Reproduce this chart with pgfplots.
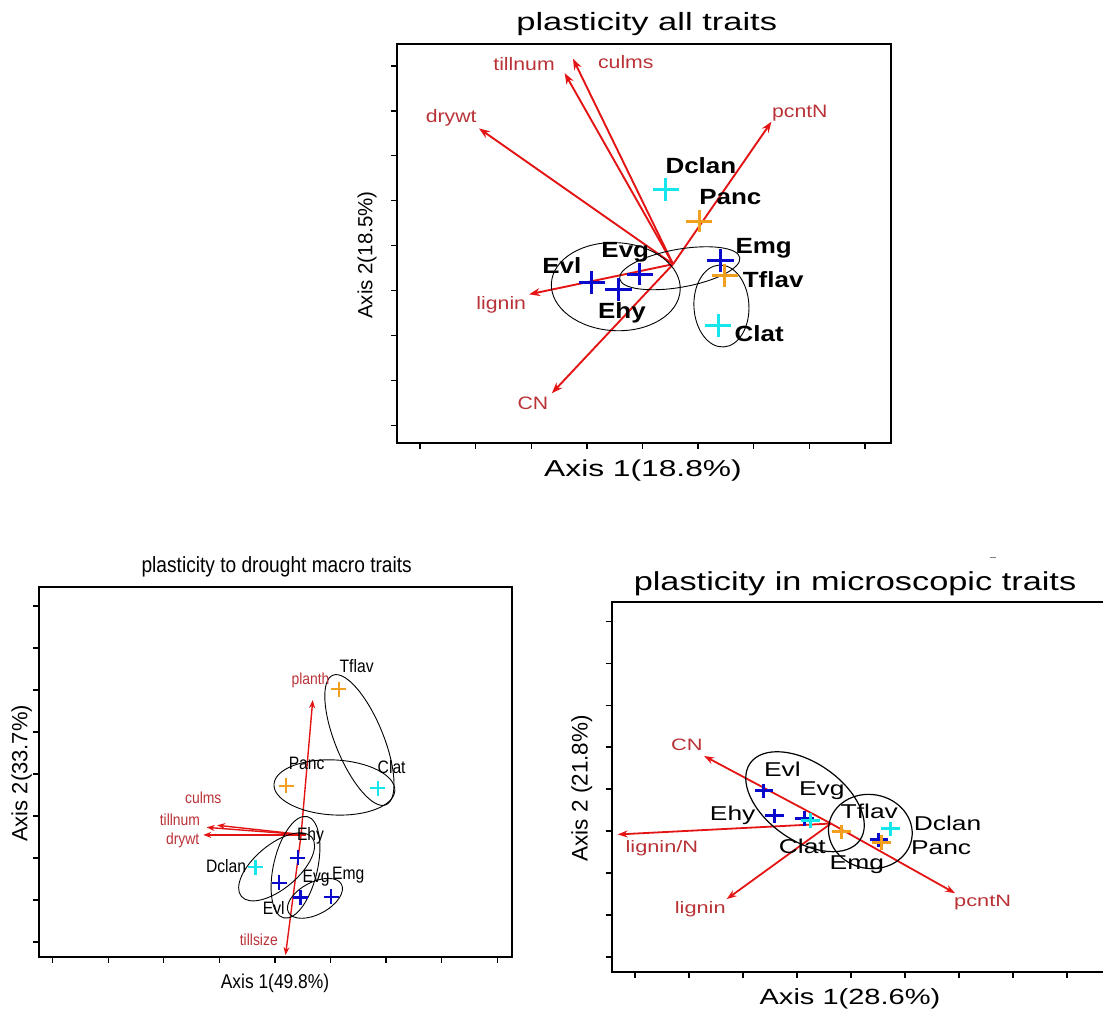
\documentclass[border=0pt]{standalone}
\usepackage{fontspec}
\setmainfont{Liberation Sans}
\newfontfamily\fA[FakeStretch=1.38]{Liberation Sans}
\newfontfamily\fB[FakeStretch=1.18]{Liberation Sans}
\newfontfamily\fC[FakeStretch=0.87]{Liberation Sans}
\newfontfamily\fD[FakeStretch=1.32]{Liberation Sans}
\usepackage{pgfplots}
\pgfplotsset{compat=1.18}
\usetikzlibrary{arrows.meta,shapes.geometric}

\definecolor{spCyan}{RGB}{20,230,235}
\definecolor{spOrange}{RGB}{240,160,30}
\definecolor{spBlue}{RGB}{10,10,205}
\definecolor{vecRed}{RGB}{228,20,20}
\definecolor{vecText}{RGB}{185,50,55}

\pgfplotsset{
  ordination/.style={
    scale only axis, clip=false, anchor=south west,
    axis line style={line width=0.9pt},
    tick style={black, line width=0.65pt},
    major tick length=3pt, tick align=outside,
    xtick pos=left, ytick pos=left,
    xtick={-4,...,4}, ytick={-4,...,4},
    xticklabels={}, yticklabels={},
  },
}
\tikzset{
  grp/.style={draw=black, line width=0.45pt, ellipse, inner sep=0pt, fill=none},
}

\begin{document}
\begin{tikzpicture}[x=0.5pt, y=0.5pt]

% ---------------- plasticity all traits ----------------
\begin{axis}[ordination, at={(198.65pt,-221.35pt)},
  width=246.85pt, height=199.2pt,
  xmin=-4.41, xmax=4.47, ymin=-4.38, ymax=4.48]
  % trait vectors
  \addplot[line width=0.95pt, vecRed, -{Stealth[length=5.5pt,width=4pt]}] coordinates {(0.55,-0.41) (-1.40,3.84)};
  \addplot[line width=0.95pt, vecRed, -{Stealth[length=5.5pt,width=4pt]}] coordinates {(0.55,-0.41) (-1.25,4.16)};
  \addplot[line width=0.95pt, vecRed, -{Stealth[length=5.5pt,width=4pt]}] coordinates {(0.55,-0.41) (-2.94,2.61)};
  \addplot[line width=0.95pt, vecRed, -{Stealth[length=5.5pt,width=4pt]}] coordinates {(0.55,-0.41) (2.32,2.76)};
  \addplot[line width=0.95pt, vecRed, -{Stealth[length=5.5pt,width=4pt]}] coordinates {(0.55,-0.41) (-2.04,-1.08)};
  \addplot[line width=0.95pt, vecRed, -{Stealth[length=5.5pt,width=4pt]}] coordinates {(0.55,-0.41) (-1.63,-3.28)};
  % groups
  \node[grp, minimum width=64.5pt, minimum height=44pt, rotate=-3] at (axis cs:-0.48,-0.91) {};
  \node[grp, minimum width=61pt, minimum height=19pt, rotate=10] at (axis cs:0.67,-0.50) {};
  \node[grp, minimum width=27.5pt, minimum height=41pt, rotate=3] at (axis cs:1.42,-1.34) {};
  % species scores
  \addplot[only marks, mark=+, mark size=6pt, mark options={line width=1.5pt, xscale=1.1, yscale=0.95}, spCyan] coordinates {(0.42,1.26) (1.36,-1.78)};
  \addplot[only marks, mark=+, mark size=6pt, mark options={line width=1.5pt, xscale=1.1, yscale=0.95}, spOrange] coordinates {(1.02,0.55) (1.48,-0.67)};
  \addplot[only marks, mark=+, mark size=6pt, mark options={line width=1.5pt, xscale=1.1, yscale=0.95}, spBlue] coordinates {(1.40,-0.33) (-0.91,-0.81) (-0.43,-0.97) (-0.05,-0.63)};
  % species names
  \begin{scope}[every node/.style={font=\fB\bfseries\fontsize{11}{12}\selectfont, inner sep=0pt}]
    \node at (axis cs:1.05,1.79) {Dclan};
    \node at (axis cs:1.58,1.08) {Panc};
    \node at (axis cs:2.18,-0.06) {Emg};
    \node at (axis cs:2.35,-0.75) {Tflav};
    \node at (axis cs:2.10,-1.96) {Clat};
    \node at (axis cs:-1.45,-0.43) {Evl};
    \node at (axis cs:-0.31,-0.15) {Evg};
    \node at (axis cs:-0.37,-1.50) {Ehy};
  \end{scope}
  % trait names
  \begin{scope}[every node/.style={font=\fB\fontsize{9}{10}\selectfont, text=vecText, inner sep=0pt}]
    \node at (axis cs:-2.13,4.05) {tillnum};
    \node at (axis cs:-0.30,4.09) {culms};
    \node at (axis cs:-3.44,2.85) {drywt};
    \node at (axis cs:2.83,2.94) {pcntN};
    \node at (axis cs:-2.54,-1.32) {lignin};
    \node at (axis cs:-1.97,-3.50) {CN};
  \end{scope}
\end{axis}
\node[anchor=base, font=\fA\fontsize{12.5}{14}\selectfont] at (646.7,-30.5) {plasticity all traits};
\node[anchor=base, font=\fA\fontsize{11.5}{13}\selectfont] at (643,-476.7) {Axis 1(18.8\%)};
\node[rotate=90, font=\fontsize{10.25}{12}\selectfont] at (367,-255) {Axis 2(18.5\%)};

% ---------------- plasticity to drought macro traits ----------------
\begin{axis}[ordination, at={(19.65pt,-478.35pt)},
  width=236.2pt, height=185pt,
  xmin=-4.24, xmax=4.26, ymin=-4.35, ymax=4.46]
  \addplot[line width=0.7pt, vecRed, -{Stealth[length=4pt,width=3pt]}] coordinates {(0.47,-1.45) (0.68,1.76)};
  \addplot[line width=0.7pt, vecRed, -{Stealth[length=4pt,width=3pt]}] coordinates {(0.47,-1.45) (0.19,-4.31)};
  \addplot[line width=0.7pt, vecRed, -{Stealth[length=4pt,width=3pt]}] coordinates {(0.55,-1.45) (-1.04,-1.22)};
  \addplot[line width=0.7pt, vecRed, -{Stealth[length=4pt,width=3pt]}] coordinates {(0.55,-1.45) (-1.23,-1.27)};
  \addplot[line width=0.7pt, vecRed, -{Stealth[length=4pt,width=3pt]}] coordinates {(0.55,-1.45) (-1.29,-1.45)};
  \node[grp, minimum width=70pt, minimum height=24pt, rotate=-67.7] at (axis cs:1.52,0.81) {};
  \node[grp, minimum width=60.5pt, minimum height=27.5pt, rotate=-3] at (axis cs:1.07,-0.32) {};
  \node[grp, minimum width=46pt, minimum height=22pt, rotate=40] at (axis cs:0.03,-2.21) {};
  \node[grp, minimum width=52pt, minimum height=22pt, rotate=77] at (axis cs:0.37,-2.22) {};
  \node[grp, minimum width=30pt, minimum height=16pt, rotate=28] at (axis cs:0.72,-2.96) {};
  \addplot[only marks, mark=+, mark size=3.75pt, mark options={line width=1.1pt}, spOrange] coordinates {(1.15,2.02) (0.20,-0.28)};
  \addplot[only marks, mark=+, mark size=3.75pt, mark options={line width=1.1pt}, spCyan] coordinates {(1.85,-0.34) (-0.35,-2.22)};
  \addplot[only marks, mark=+, mark size=3.75pt, mark options={line width=1.1pt}, spBlue] coordinates {(0.41,-1.99) (0.08,-2.59) (0.46,-2.94) (1.01,-2.92)};
  \begin{scope}[every node/.style={font=\fC\fontsize{9}{10}\selectfont, inner sep=0pt}]
    \node at (axis cs:1.47,2.57) {Tflav};
    \node at (axis cs:0.57,0.25) {Panc};
    \node at (axis cs:2.10,0.16) {Clat};
    \node at (axis cs:0.64,-1.48) {Ehy};
    \node at (axis cs:-0.88,-2.19) {Dclan};
    \node at (axis cs:0.74,-2.48) {Evg};
    \node at (axis cs:1.32,-2.40) {Emg};
    \node at (axis cs:-0.02,-3.20) {Evl};
  \end{scope}
  \begin{scope}[every node/.style={font=\fC\fontsize{8}{9}\selectfont, text=vecText, inner sep=0pt}]
    \node at (axis cs:0.64,2.22) {planth};
    \node at (axis cs:-0.29,-3.94) {tillsize};
    \node at (axis cs:-1.29,-0.56) {culms};
    \node at (axis cs:-1.71,-1.08) {tillnum};
    \node at (axis cs:-1.66,-1.57) {drywt};
  \end{scope}
\end{axis}
\node[anchor=base, font=\fC\fontsize{11}{12.5}\selectfont] at (276.7,-572.7) {plasticity to drought macro traits};
\node[anchor=base, font=\fC\fontsize{10}{11.5}\selectfont] at (275,-988.3) {Axis 1(49.8\%)};
\node[rotate=90, font=\fontsize{11}{12.5}\selectfont] at (21.7,-773.3) {Axis 2(33.7\%)};

% ---------------- plasticity in microscopic traits ----------------
\begin{axis}[ordination, at={(305.85pt,-485.85pt)},
  width=249.2pt, height=184.7pt,
  xmin=-4.43, xmax=4.80, ymin=-4.35, ymax=4.45]
  \addplot[line width=0.9pt, vecRed, -{Stealth[length=5pt,width=3.5pt]}] coordinates {(-0.37,-0.82) (-2.72,0.79)};
  \addplot[line width=0.9pt, vecRed, -{Stealth[length=5pt,width=3.5pt]}] coordinates {(-0.37,-0.82) (-4.32,-1.08)};
  \addplot[line width=0.9pt, vecRed, -{Stealth[length=5pt,width=3.5pt]}] coordinates {(-0.37,-0.82) (-2.30,-2.62)};
  \addplot[line width=0.9pt, vecRed, -{Stealth[length=5pt,width=3.5pt]}] coordinates {(-0.37,-0.82) (1.93,-2.48)};
  \node[grp, line width=0.6pt, minimum width=67pt, minimum height=39pt, rotate=-35] at (axis cs:-0.85,-0.30) {};
  \node[grp, line width=0.6pt, minimum width=42pt, minimum height=37pt, rotate=-10] at (axis cs:0.36,-1.01) {};
  \addplot[only marks, mark=+, mark size=4.25pt, mark options={line width=1.5pt, xscale=1.1, yscale=0.85}, spBlue] coordinates {(-1.61,-0.04) (-1.41,-0.64) (-0.86,-0.70) (0.52,-1.21)};
  \addplot[only marks, mark=+, mark size=4.25pt, mark options={line width=1.5pt, xscale=1.1, yscale=0.85}, spCyan] coordinates {(-0.75,-0.75) (0.73,-0.95)};
  \addplot[only marks, mark=+, mark size=4.25pt, mark options={line width=1.5pt, xscale=1.1, yscale=0.85}, spOrange] coordinates {(-0.17,-1.02) (0.57,-1.27)};
  \begin{scope}[every node/.style={font=\fD\fontsize{10}{11}\selectfont, inner sep=0pt}]
    \node at (axis cs:-1.27,0.48) {Evl};
    \node at (axis cs:-0.54,-0.04) {Evg};
    \node at (axis cs:-2.19,-0.62) {Ehy};
    \node at (axis cs:0.34,-0.52) {Tflav};
    \node at (axis cs:1.79,-0.82) {Dclan};
    \node at (axis cs:-0.90,-1.37) {Clat};
    \node at (axis cs:1.67,-1.40) {Panc};
    \node at (axis cs:0.11,-1.79) {Emg};
  \end{scope}
  \begin{scope}[every node/.style={font=\fD\fontsize{8.25}{9}\selectfont, text=vecText, inner sep=0pt}]
    \node at (axis cs:-3.04,1.05) {CN};
    \node at (axis cs:-3.50,-1.41) {lignin/N};
    \node at (axis cs:-2.79,-2.86) {lignin};
    \node at (axis cs:2.44,-2.70) {pcntN};
  \end{scope}
\end{axis}
\draw[line width=0.35pt, gray] (990,-557) -- (996,-557);
\node[anchor=base, font=\fD\fontsize{13}{14.5}\selectfont] at (855,-590) {plasticity in microscopic traits};
\node[anchor=base, font=\fD\fontsize{11}{12.5}\selectfont] at (850,-1004) {Axis 1(28.6\%)};
\node[rotate=90, font=\fontsize{11.25}{12.5}\selectfont] at (581.7,-788.3) {Axis 2 (21.8\%)};

\pgfresetboundingbox
\useasboundingbox (0,0) rectangle (1103,-1009);
\end{tikzpicture}
\end{document}
